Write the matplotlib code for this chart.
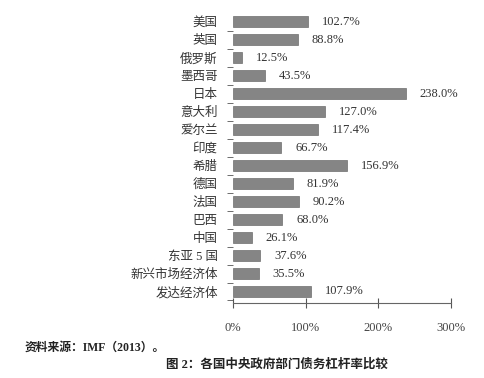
import matplotlib.pyplot as plt
import numpy as np

plt.rcParams['font.family'] = ['Liberation Serif', 'Noto Sans CJK SC']

# data, top to bottom as in the picture
countries = ['美国', '英国', '俄罗斯', '墨西哥', '日本', '意大利', '爱尔兰', '印度',
             '希腊', '德国', '法国', '巴西', '中国', '东亚 5 国', '新兴市场经济体', '发达经济体']
values = [102.7, 88.8, 12.5, 43.5, 238.0, 127.0, 117.4, 66.7,
          156.9, 81.9, 90.2, 68.0, 26.1, 37.6, 35.5, 107.9]
xticks = [0, 100, 200, 300]

fig = plt.figure(figsize=(4.85, 3.78), dpi=100)
ax = fig.add_axes([233/485, 1-303/378, (451-233)/485, (303-11)/378])

y = np.arange(len(countries))[::-1]
ax.barh(y, values, height=0.6, color='#858585', edgecolor='#6e6e6e', linewidth=0.5)

for yi, v in zip(y, values):
    ax.annotate('%.1f%%' % v, (v, yi), xytext=(10, 0), textcoords='offset points',
                va='center', ha='left', fontsize=9, color='#333333')

ax.set_xlim(0, 300)
ax.set_ylim(-0.64, 15.6)
ax.set_xticks(xticks)
ax.set_xticklabels(['%d%%' % t for t in xticks], fontsize=9, color='#444444')
ax.set_yticks(y)
ax.set_yticklabels(countries, fontsize=9, color='#333333')
ax.set_yticks(np.arange(len(countries)) - 0.5, minor=True)
ax.tick_params(axis='y', which='major', length=0, pad=11)
ax.tick_params(axis='y', which='minor', length=4, color='#555555')
ax.tick_params(axis='x', direction='inout', length=7, color='#555555', pad=10)

for s in ['top', 'right', 'left']:
    ax.spines[s].set_visible(False)
ax.spines['bottom'].set_color('#666666')

fig.text(25/485, 1-348/378, '资料来源：IMF（2013）。', fontsize=8.5, fontweight='bold',
         color='#222222', va='center')
fig.text(277/485, 1-365/378, '图 2：各国中央政府部门债务杠杆率比较', fontsize=9,
         fontweight='bold', color='#222222', ha='center', va='center')

fig.savefig('out.png', dpi=100)
